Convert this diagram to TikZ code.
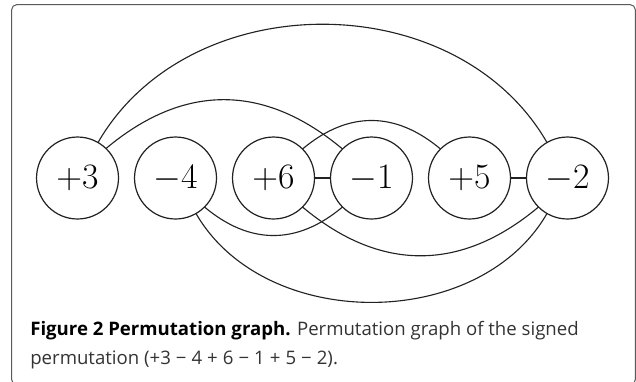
\documentclass[tikz,border=0pt]{standalone}
\usepackage{amsmath,amssymb}
\usepackage{fontspec}
\setmainfont{Open Sans}
\usepackage{xcolor}
\definecolor{framegray}{HTML}{5A5A5A}
\definecolor{inkgray}{HTML}{222222}
\definecolor{capgray}{HTML}{333333}
\newcommand{\numfont}{\fontsize{21}{25}\selectfont}
\newcommand{\capfont}{\fontsize{10.8}{16}\selectfont}
\newcommand{\op}[1]{\kern0.27em#1\kern0.27em}

\begin{document}
\begin{tikzpicture}[
        vtx/.style={circle, draw=inkgray, line width=0.7pt, minimum size=1.673cm, inner sep=0pt, outer sep=0pt, font=\numfont},
        edge/.style={draw=inkgray, line width=0.65pt},
        capline/.style={anchor=base west, inner sep=0pt, font=\capfont}]

        \useasboundingbox (0, 0) rectangle (12.98, -7.776);
        \draw[framegray, line width=0.6pt, rounded corners=0.1cm] (0.239, -0.096) rectangle (12.965, -7.85);

        % signed elements
        \node[vtx] (p3) at (1.582, -3.633) {$+3$};
        \node[vtx] (m4) at (3.582, -3.633) {$-4$};
        \node[vtx] (p6) at (5.582, -3.633) {$+6$};
        \node[vtx] (m1) at (7.582, -3.633) {$-1$};
        \node[vtx] (p5) at (9.582, -3.633) {$+5$};
        \node[vtx] (m2) at (11.582, -3.633) {$-2$};

        % arcs above
        \draw[edge] (p3.60) to[out=60, in=120, looseness=1.04] (m2.120);
        \draw[edge] (p3.46) to[out=40, in=140, looseness=1.1] (m1.135);
        \draw[edge] (p6.45) to[out=40, in=140, looseness=1.1] (p5.135);

        % arcs below
        \draw[edge] (m4.-45) to[out=-40, in=-140, looseness=1.1] (m1.-135);
        \draw[edge] (p6.-45) to[out=-40, in=-140, looseness=1.1] (m2.-135);
        \draw[edge] (m4.-60) to[out=-60, in=-120, looseness=1.0] (m2.-120);

        % neighbours
        \draw[edge] (p6) -- (m1);
        \draw[edge] (p5) -- (m2);

        \node[capline] (cap1) at (0.612, -6.857) {\textbf{Figure 2 Permutation graph.} \textcolor{capgray}{Permutation graph of the signed}};
        \node[capline] (cap2) at (0.612, -7.429) {\textcolor{capgray}{permutation (+3\op{−}4\op{+}6\op{−}1\op{+}5\op{−}2).}};
    \end{tikzpicture}
\end{document}
